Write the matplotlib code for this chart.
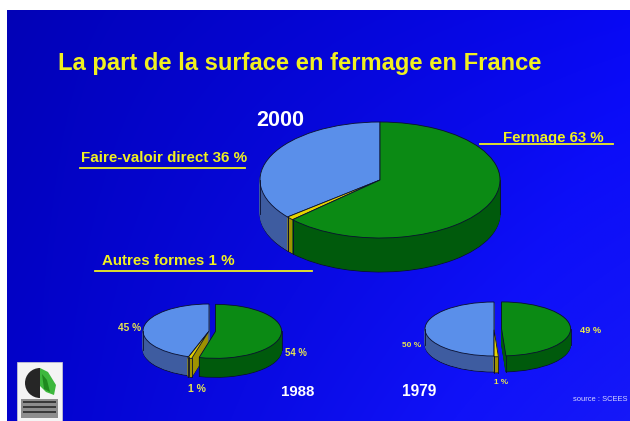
import numpy as np
import matplotlib
matplotlib.use('Agg')
import matplotlib.pyplot as plt
from matplotlib.patches import Rectangle, Wedge, Polygon

# ---------------- data ----------------
title = "La part de la surface en fermage en France"
categories = ["Faire-valoir direct", "Autres formes", "Fermage"]
years = ["2000", "1988", "1979"]
shares_2000 = [36, 1, 63]
shares_1988 = [45, 1, 54]
shares_1979 = [50, 1, 49]
labels_2000 = ["Faire-valoir direct 36 %", "Autres formes 1 %", "Fermage 63 %"]
labels_1988 = ["45 %", "1 %", "54 %"]
labels_1979 = ["50 %", "1 %", "49 %"]
source = "source : SCEES"

# ---------------- style ----------------
top_colors = ['#5A8FEA', '#E6D400', '#0B8A14']
side_colors = ['#3E5CA0', '#A09200', '#005A0C']
edge = '#0A1030'
YEL = '#F0F020'
YEL2 = '#E6E650'
FONT = ['Liberation Sans', 'DejaVu Sans']

W, H = 630, 421
fig = plt.figure(figsize=(6.3, 4.21), dpi=100)
fig.patch.set_facecolor('white')

# background slide with gradient
bg = fig.add_axes([0, 0, 1, 1])
ny, nx = 120, 240
xf = np.linspace(0, 1, nx)[None, :] * np.ones((ny, 1))
yf = np.linspace(0, 1, ny)[:, None] * np.ones((1, nx))
Bc = np.clip(182 + 62 * xf + 22 * yf, 0, 248) / 255
Rc = np.clip(2 + 14 * xf * (0.4 + yf), 0, 255) / 255
Gc = np.clip(2 + 16 * xf * (0.4 + yf), 0, 255) / 255
img = np.dstack([Rc, Gc, Bc])
bg.imshow(img, extent=(7, W + 2, H + 2, 10), aspect='auto', interpolation='bilinear', zorder=0)
bg.set_xlim(0, W)
bg.set_ylim(H, 0)
bg.axis('off')

# logo (decoration)
bg.add_patch(Rectangle((17, 362), 45, 60, facecolor='#F4F4F4', edgecolor='#D0D0D0', lw=0.5, zorder=2))
bg.add_patch(Wedge((40, 383), 15, 90, 270, facecolor='#262626', zorder=3))
bg.add_patch(Polygon([[40, 368], [48, 372], [56, 385], [54, 395], [46, 392], [40, 386]],
                     closed=True, facecolor='#3DB83D', zorder=3))
bg.add_patch(Polygon([[42, 374], [47, 380], [50, 392], [44, 389]], closed=True,
                     facecolor='#1E8A1E', zorder=3))
bg.add_patch(Rectangle((21, 399), 37, 19, facecolor='#8E8E8E', zorder=3))
for yy in (401, 406, 411):
    bg.add_patch(Rectangle((23, yy), 33, 2.2, facecolor='#3A3A3A', zorder=4))


def pie3d(cx, cy, a, b, depth, shares, explode):
    dep = depth / b
    pad = 1.3
    left = (cx - pad * a) / W
    width = 2 * pad * a / W
    h_px = (2 * pad + dep) * b
    top_px = cy - pad * b
    ax = fig.add_axes([left, 1 - (top_px + h_px) / H, width, h_px / H])
    n = max(int(depth), 2)
    for i in range(n, 0, -1):
        off = -dep * i / n
        wedges, _ = ax.pie(shares, colors=side_colors, startangle=90, counterclock=True,
                           explode=explode, center=(0, off), radius=1,
                           wedgeprops=dict(linewidth=0.7))
        for w in wedges:
            if i == n:
                w.set_edgecolor(edge)
                w.set_linewidth(0.6)
            else:
                w.set_edgecolor(w.get_facecolor())
    ax.pie(shares, colors=top_colors, startangle=90, counterclock=True, explode=explode,
           radius=1, wedgeprops=dict(linewidth=0.6, edgecolor=edge))
    # vertical edges of the side wall
    total = float(sum(shares))
    cum = 0.0
    for s, ex in zip(shares, explode):
        t1 = 90 + 360 * cum / total
        cum += s
        t2 = 90 + 360 * cum / total
        mid = np.deg2rad((t1 + t2) / 2)
        ox, oy = ex * np.cos(mid), ex * np.sin(mid)
        angs = [t1, t2] + [k for k in (180, 360, 540) if t1 <= k <= t2]
        for t in angs:
            r = np.deg2rad(t)
            if np.sin(r) <= 0.05:
                x = ox + np.cos(r)
                y = oy + np.sin(r)
                ax.plot([x, x], [y, y - dep], color=edge, lw=0.6)
    ax.set_aspect('auto')
    ax.set_xlim(-pad, pad)
    ax.set_ylim(-pad - dep, pad)
    ax.axis('off')
    return ax


pie3d(380, 180, 120, 58, 34, shares_2000, [0, 0, 0])
pie3d(209, 331, 66, 27, 19, shares_1988, [0, 0.05, 0.1])
pie3d(494, 329, 69, 27, 16, shares_1979, [0, 0.03, 0.11])

# overlay for texts
ov = fig.add_axes([0, 0, 1, 1])
ov.set_xlim(0, W)
ov.set_ylim(H, 0)
ov.axis('off')
ov.patch.set_alpha(0)

fig.canvas.draw()
renderer = fig.canvas.get_renderer()


def fit_text(s, x0, x1, ybase, color, size0=12, grow=1.0, weight='bold'):
    t = ov.text((x0 + x1) / 2, ybase, s, fontsize=size0, ha='center', va='baseline',
                color=color, fontweight=weight, family=FONT)
    bb = t.get_window_extent(renderer)
    t.set_fontsize(size0 * grow * (x1 - x0) / bb.width)
    return t


fit_text(title, 62, 538, 70, YEL, grow=1.01)
fit_text(years[0], 258, 302, 126, 'white', grow=1.08)
fit_text(labels_2000[0], 82, 247, 162, YEL)
fit_text(labels_2000[1], 102, 234, 265, YEL)
fit_text(labels_2000[2], 503, 604, 142, YEL)
ov.plot([80, 245], [168, 168], color=YEL, lw=1.3)
ov.plot([95, 312], [271, 271], color=YEL, lw=1.3)
ov.plot([480, 613], [144, 144], color=YEL, lw=1.3)

fit_text(labels_1988[0], 118, 141, 331, YEL2)
fit_text(labels_1988[2], 285, 307, 356, YEL2)
fit_text(labels_1988[1], 188, 206, 392, YEL2)
fit_text(years[1], 282, 313, 396, 'white', grow=1.08)

fit_text(years[2], 403, 435, 396, 'white', grow=1.08)
fit_text(labels_1979[0], 402, 421, 347, YEL2)
fit_text(labels_1979[2], 580, 601, 333, YEL2)
fit_text(labels_1979[1], 494, 508, 384, YEL2)
fit_text(source, 573, 628, 401, '#D8D8FF', size0=5, weight='normal')

fig.savefig('out.png', dpi=100, facecolor='white')
